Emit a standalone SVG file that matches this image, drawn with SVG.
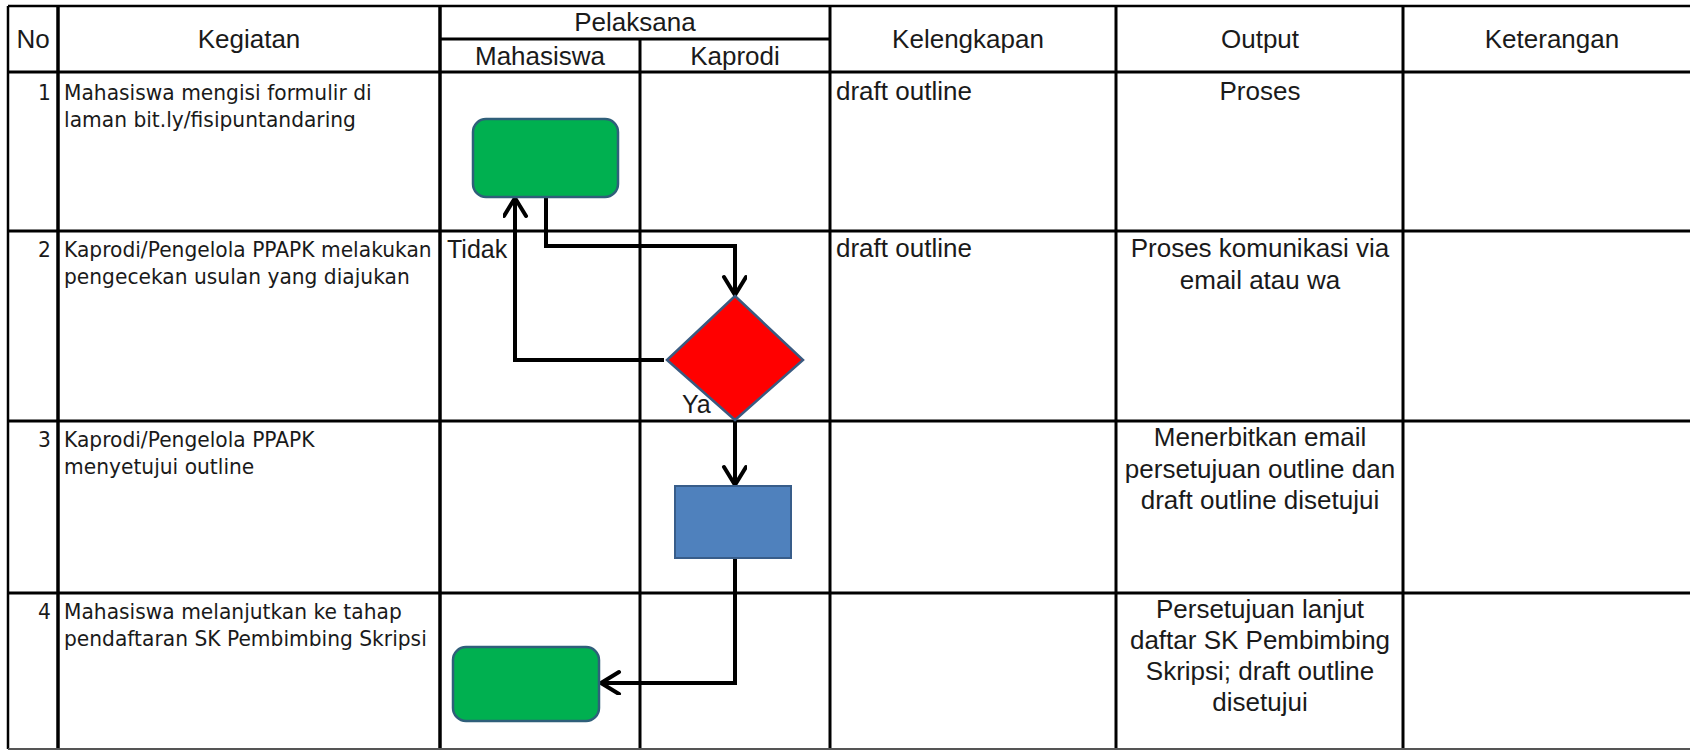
<svg xmlns="http://www.w3.org/2000/svg" width="1690" height="751" viewBox="0 0 1690 751">
<defs>
<style>
.grid line{stroke:#000;stroke-width:3}
.hd{font-family:"Liberation Sans",Arial,sans-serif;font-size:26px;fill:#1a1a1a}
.c{text-anchor:middle}
.tx{font-family:"Liberation Sans",Arial,sans-serif;font-size:26px;fill:#1a1a1a}
.kg{font-family:"DejaVu Sans",Verdana,sans-serif;font-size:22px;fill:#1a1a1a}
.num{text-anchor:end}
.lbl{font-family:"Liberation Sans",Arial,sans-serif;font-size:25px;fill:#1a1a1a}
.term{fill:#00B050;stroke:#2F5F7A;stroke-width:2.5}
.proc{fill:#4F81BD;stroke:#385D8A;stroke-width:2}
.dec{fill:#FF0000;stroke:#3A5A80;stroke-width:2.5}
.conn path{fill:none;stroke:#000;stroke-width:4;stroke-linejoin:miter}
</style>
<marker id="arr" markerUnits="userSpaceOnUse" markerWidth="32" markerHeight="32" refX="21" refY="12" orient="auto">
<path d="M3,1 L21,12 L3,23" fill="none" stroke="#000" stroke-width="4" stroke-linecap="round" stroke-linejoin="round"/>
</marker>
</defs>
<rect width="1690" height="751" fill="#fff"/>
<g id="table" class="grid">
<line x1="8" y1="6" x2="1690" y2="6" style="stroke-width:2.5"/>
<line x1="8" y1="6" x2="8" y2="749" style="stroke-width:2.5"/>
<line x1="58" y1="6" x2="58" y2="749" style="stroke-width:3.5"/>
<line x1="440" y1="6" x2="440" y2="749" style="stroke-width:3.5"/>
<line x1="640" y1="39" x2="640" y2="749"/>
<line x1="830" y1="6" x2="830" y2="749"/>
<line x1="1116" y1="6" x2="1116" y2="749"/>
<line x1="1403" y1="6" x2="1403" y2="749"/>
<line x1="440" y1="39" x2="830" y2="39"/>
<line x1="8" y1="72" x2="1690" y2="72"/>
<line x1="8" y1="231" x2="1690" y2="231"/>
<line x1="8" y1="421" x2="1690" y2="421"/>
<line x1="8" y1="593" x2="1690" y2="593"/>
<line x1="8" y1="749" x2="1690" y2="749" style="stroke:#555;stroke-width:2"/>
</g>
<g id="headers">
<text class="hd c" x="33" y="48">No</text>
<text class="hd c" x="249" y="48">Kegiatan</text>
<text class="hd c" x="635" y="31">Pelaksana</text>
<text class="hd c" x="540" y="65">Mahasiswa</text>
<text class="hd c" x="735" y="65">Kaprodi</text>
<text class="hd c" x="968" y="48">Kelengkapan</text>
<text class="hd c" x="1260" y="48">Output</text>
<text class="hd c" x="1552" y="48">Keterangan</text>
</g>
<g id="kegiatan" transform="scale(0.92 1)">
<text class="kg num" x="55.4" y="100">1</text>
<text class="kg" x="69.6" y="100">Mahasiswa mengisi formulir di</text>
<text class="kg" x="69.6" y="127">laman bit.ly/fisipuntandaring</text>
<text class="kg num" x="55.4" y="257">2</text>
<text class="kg" x="69.6" y="257">Kaprodi/Pengelola PPAPK melakukan</text>
<text class="kg" x="69.6" y="284">pengecekan usulan yang diajukan</text>
<text class="kg num" x="55.4" y="447">3</text>
<text class="kg" x="69.6" y="447">Kaprodi/Pengelola PPAPK</text>
<text class="kg" x="69.6" y="474">menyetujui outline</text>
<text class="kg num" x="55.4" y="619">4</text>
<text class="kg" x="69.6" y="619">Mahasiswa melanjutkan ke tahap</text>
<text class="kg" x="69.6" y="646">pendaftaran SK Pembimbing Skripsi</text>
</g>
<g id="kelengkapan">
<text class="tx" x="836" y="100">draft outline</text>
<text class="tx" x="836" y="257">draft outline</text>
</g>
<g id="output">
<text class="tx c" x="1260" y="100">Proses</text>
<text class="tx c" x="1260" y="257">Proses komunikasi via</text>
<text class="tx c" x="1260" y="289">email atau wa</text>
<text class="tx c" x="1260" y="446">Menerbitkan email</text>
<text class="tx c" x="1260" y="478">persetujuan outline dan</text>
<text class="tx c" x="1260" y="509">draft outline disetujui</text>
<text class="tx c" x="1260" y="618">Persetujuan lanjut</text>
<text class="tx c" x="1260" y="649">daftar SK Pembimbing</text>
<text class="tx c" x="1260" y="680">Skripsi; draft outline</text>
<text class="tx c" x="1260" y="711">disetujui</text>
</g>
<g id="connectors" class="conn">
<path d="M546,198 V246 H735 V295" marker-end="url(#arr)"/>
<path d="M664,360 H515 V198" marker-end="url(#arr)"/>
<path d="M735,420 V485" marker-end="url(#arr)"/>
<path d="M735,558 V683 H601" marker-end="url(#arr)"/>
</g>
<g id="node-start">
<rect class="term" x="473" y="119" width="145" height="78" rx="13"/>
</g>
<g id="node-decision">
<polygon class="dec" points="735,296 803,360 735,420 667,360"/>
</g>
<g id="node-approve">
<rect class="proc" x="675" y="486" width="116" height="72"/>
</g>
<g id="node-end">
<rect class="term" x="453" y="647" width="146" height="74" rx="13"/>
</g>
<g id="labels">
<text class="lbl" x="447" y="258">Tidak</text>
<text class="lbl" x="682" y="413">Ya</text>
</g>
</svg>
